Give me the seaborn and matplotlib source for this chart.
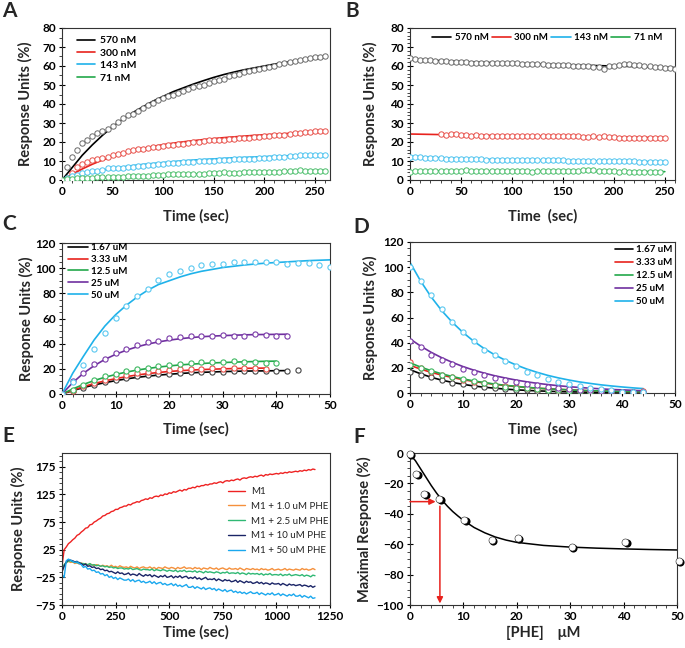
import numpy as np
import matplotlib
matplotlib.use("Agg")
import matplotlib.pyplot as plt
import matplotlib.transforms as mtransforms
from matplotlib.lines import Line2D
from matplotlib.ticker import MultipleLocator, FixedLocator
import seaborn as sns

sns.set_theme(style="ticks")
plt.rcParams["font.family"] = ["Lato", "DejaVu Sans"]
plt.rcParams["font.weight"] = "bold"
plt.rcParams["axes.labelweight"] = "bold"

# ------------------------------------------------------------------ data
# Panel A (association, 5 s sampling)
a_labels = ["570 nM", "300 nM", "143 nM", "71 nM"]
a_570_start = 0
a_570 = [0, 7, 12, 16, 19.5, 21, 23, 24.5, 25.6, 27, 28.6, 30.5, 32.6, 34, 35, 36.5, 38,
         39.5, 40.5, 42, 43, 44, 45, 46, 46.7, 48, 48.8, 49.5, 50, 51, 52, 52.5, 53.3, 54.5,
         55.5, 56, 57, 57.5, 58, 58.5, 59, 59.5, 60.2, 61, 61.5, 62, 62.6, 63, 63.7, 64.3,
         64.6, 64.8, 65.4]
a_300_start = 10
a_300 = [3.7, 7, 8.6, 9.5, 10.3, 11, 11.6, 12.3, 13, 13.6, 14.2, 15.2, 16, 16.2, 16.5, 16.8,
         17.2, 17.5, 17.7, 18.3, 18.6, 18.9, 19.1, 19.6, 20, 20.2, 20.4, 20.8, 21, 21, 21.2,
         21.6, 21.8, 22, 22.1, 22.3, 22.6, 22.8, 23, 23.4, 23.6, 23.8, 23.9, 24.3, 24.6, 24.9,
         25.1, 25.4, 25.6, 25.7, 25.8]
a_143_start = 5
a_143 = [1, 2.2, 2.8, 3.5, 4, 4.5, 5, 5.5, 6.3, 6.2, 6.4, 6.5, 6.8, 7, 7.2, 7.5, 7.8, 8, 8.3,
         8.5, 8.8, 9, 9.2, 9.3, 9.5, 9.6, 9.8, 9.8, 10, 10.2, 10.3, 10.5, 10.7, 10.8, 11, 11,
         11.2, 11.3, 11.5, 11.5, 11.8, 12, 12.1, 12.2, 12.5, 12.8, 13, 13, 13.2, 13.1, 13.3, 13.2]
a_71_start = 0
a_71 = [0, 0.3, 0.5, 0.8, 1, 1, 1.2, 1.4, 1.5, 1.4, 1.5, 1.7, 1.8, 1.9, 2, 2.1, 2, 2.3, 2.5,
        2.7, 2.8, 2.9, 3, 2.9, 3, 3.1, 3.2, 3.3, 3.3, 3.6, 3.8, 3.9, 4, 3.8, 3.7, 3.9, 4, 4.1,
        4, 4.1, 4.2, 4.3, 4.2, 4.4, 4.5, 4.6, 4.8, 5.1, 5, 4.8, 4.9, 5, 5]
a_fit_time = [0, 10, 20, 30, 40, 50, 60, 70, 80, 90, 100, 110, 120, 130, 140, 150, 160, 170,
              180, 190, 200, 210, 220, 230, 240, 250, 260]
a_fit_570 = [0, 6.5, 13, 18.5, 23.5, 28, 32, 35.5, 38.5, 41.5, 44, 46.5, 48.5, 50.5, 52.3, 54,
             55.5, 56.8, 58, 59, 60, 61, 61.8, 62.5, 63.2, 63.8, 64.3]
a_fit_300 = [0, 3, 5.8, 8.3, 10.5, 12.4, 14, 15.4, 16.6, 17.7, 18.6, 19.4, 20.1, 20.7, 21.3,
             21.8, 22.3, 22.7, 23.1, 23.5, 23.8, 24.1, 24.4, 24.7, 24.9, 25.1, 25.3]
a_fit_143 = [0, 1.6, 3, 4.2, 5.2, 6.1, 6.9, 7.6, 8.2, 8.7, 9.2, 9.7, 10.1, 10.5, 10.8, 11.1,
             11.4, 11.7, 11.9, 12.1, 12.3, 12.5, 12.7, 12.9, 13, 13.2, 13.3]
a_fit_71 = [0, 0.3, 0.6, 0.9, 1.2, 1.5, 1.7, 1.9, 2.1, 2.3, 2.5, 2.7, 2.9, 3.1, 3.3, 3.4, 3.6,
            3.7, 3.9, 4.0, 4.2, 4.3, 4.5, 4.6, 4.8, 4.9, 5.0]

# Panel B (dissociation, 5 s sampling)
b_570_start = 0
b_570 = [64, 63.5, 63.3, 63, 63, 62.8, 62.6, 62.4, 62.2, 62.3, 62, 62, 61.8, 61.7, 61.8, 61.6,
         61.5, 61.7, 61.6, 61.4, 61.6, 61.5, 61.2, 61.0, 60.9, 61, 60.8, 60.7, 60.6, 60.3, 60.4,
         60.3, 60.2, 60.1, 59.9, 59.8, 59.7, 59.6, 58.6, 59.8, 60.2, 60.5, 61, 60.8, 60.5, 60.3,
         60.1, 60, 59.5, 59.3, 59.1, 59, 58.6]
b_300_start = 30
b_300 = [24.1, 23.9, 24.3, 24.2, 23.8, 23.5, 23.4, 23.5, 23.2, 23.3, 23.1, 23, 22.9, 23.1, 23,
         23.2, 23.3, 23.1, 23.4, 23.2, 23.3, 23.1, 23, 23.2, 23.1, 23, 23.2, 23, 22.8, 22.7,
         22.9, 22.8, 22.9, 22.6, 22.4, 22.3, 22.1, 22, 21.9, 22, 22.1, 22, 22.2, 22.3, 22.2]
b_143_start = 0
b_143 = [12.3, 12, 11.9, 11.8, 11.6, 11.5, 11.4, 11.3, 11.2, 11.1, 11, 10.9, 10.9, 10.8, 10.8,
         10.7, 10.7, 10.6, 10.6, 10.6, 10.5, 10.5, 10.5, 10.4, 10.4, 10.4, 10.4, 10.3, 10.3, 10.3,
         10.3, 10.2, 10.2, 10.2, 10.1, 10.1, 10.1, 10, 10, 10, 10, 9.9, 9.9, 9.8, 9.8, 9.7, 9.6,
         9.5, 9.5, 9.5, 9.6]
b_71_start = 0
b_71 = [4.3, 4.8, 4.9, 4.6, 4.5, 4.7, 4.6, 4.8, 4.7, 4.9, 5, 5.2, 5, 4.8, 4.9, 4.7, 4.6, 4.8,
        4.5, 4.6, 4.7, 4.6, 4.5, 4.6, 4.4, 4.5, 4.6, 4.5, 4.7, 4.8, 4.6, 4.7, 4.8, 5, 5.2, 5.3,
        5.2, 5, 4.8, 4.6, 4.5, 4.4, 4.5, 4.4, 4.3, 4.4, 4.3, 4.2, 4.3, 4.2]
b_fit_time_570 = [0, 50, 100, 150, 200, 260]
b_fit_570 = [63.5, 62.3, 61.4, 60.6, 60.0, 59.2]
b_fit_time = [0, 50, 100, 150, 200, 250]
b_fit_300 = [24.2, 23.7, 23.3, 22.9, 22.6, 22.3]
b_fit_143 = [12.4, 11.2, 10.6, 10.2, 9.9, 9.6]
b_fit_71 = [4.8, 4.7, 4.6, 4.5, 4.5, 4.4]

# Panel C (association, 2 s sampling)
cd_labels = ["1.67 uM", "3.33 uM", "12.5 uM", "25 uM", "50 uM"]
c_1p67 = [0, 2, 5, 7.5, 9.5, 11.5, 12.5, 14, 15, 15.5, 16.2, 16.8, 17.3, 17.5, 17.8, 17.6, 18,
          18.2, 18.3, 18.2, 18.5, 18.2, 18.8]
c_3p33 = [0, 2.5, 6, 9, 11.5, 13.5, 15, 16.5, 17.5, 18.3, 19, 19.5, 19.8, 20, 20.3, 20.1, 20.5,
          20.3, 20.4, 20]
c_12p5 = [0, 3, 7.5, 11, 14, 16, 18, 19.5, 21, 22.3, 23.3, 24, 24.8, 25.2, 25.5, 25.3, 26,
          25.6, 25.8, 24.3, 25]
c_25 = [0, 10, 16.5, 23.6, 27.9, 32.4, 35.8, 39, 41.1, 42.5, 44.3, 45.4, 45.9, 46.2, 45.9,
        46.7, 46.4, 46.4, 47.3, 46.7, 46.4, 46.4]
c_50 = [0, 9.8, 22.8, 35.6, 48.3, 60.3, 70, 78, 83.6, 90.3, 95, 97.7, 99.8, 102.5, 103.3, 103.3,
        104.6, 105, 104.9, 104.6, 104.9, 103.3, 103.8, 104, 102.5, 100.9]
c_fit_1p67 = [0, 2.7, 5.1, 7.2, 9, 10.6, 12, 13.2, 14.2, 15, 15.7, 16.3, 16.8, 17.2, 17.5, 17.8,
              18, 18.2, 18.3, 18.4, 18.5, 18.6]
c_fit_3p33 = [0, 3, 5.8, 8.3, 10.4, 12.2, 13.8, 15.1, 16.2, 17.1, 17.9, 18.5, 19, 19.4, 19.7,
              20, 20.2, 20.4, 20.5, 20.6]
c_fit_12p5 = [0, 4, 7.6, 10.7, 13.3, 15.5, 17.4, 19, 20.3, 21.4, 22.3, 23.1, 23.7, 24.2, 24.7,
              25, 25.3, 25.6, 25.8, 26, 26.1]
c_fit_25 = [0, 9, 16.5, 22.5, 27.5, 31.5, 34.8, 37.5, 39.7, 41.4, 42.8, 43.9, 44.8, 45.5, 46,
            46.4, 46.7, 47, 47.2, 47.3, 47.4, 47.5]
c_fit_50 = [0, 16.5, 30, 43, 54, 63, 70.5, 77, 82.5, 87, 90, 93, 95.5, 97.5, 99, 100.5, 101.5,
            102.5, 103.3, 104, 104.5, 105, 105.5, 106, 106.3, 106.6]

# Panel D (dissociation, 2 s sampling)
d_1p67 = [16.5, 14, 12.5, 10.5, 8, 7, 5.5, 4.5, 4, 3, 2.5, 2, 1.5, 1.2, 1, 0.8, 0.6, 0.5, 0.4,
          0.3, 0.3, 0.2, 0.2]
d_3p33 = [24.5, 20, 17, 14.5, 12.5, 10.5, 9, 7.8, 6.5, 5.5, 4.7, 4, 3.4, 2.8, 2.4, 2, 1.7,
          1.4, 1.2, 1, 0.8, 0.7, 1.2]
d_12p5 = [22.5, 20, 17.5, 14.5, 12.5, 10.8, 9.2, 8, 6.3, 4.5, 4.3, 3.6, 3, 2.5, 2, 1.5, 1.2,
          1, 0.8, 0.6, 0.5, 0.4, 0.3]
d_25 = [41, 36.3, 30.5, 26.5, 22.8, 19.3, 16.5, 14.5, 12, 10.5, 9, 7.5, 6.3, 5, 4, 3.3, 2.7, 2,
        1.5, 1.2, 1, 0.8, 0.7]
d_50 = [100.1, 89.3, 78, 67, 56.7, 48.2, 41, 34.4, 30, 25.2, 21.2, 17, 14.3, 11.1, 8.7, 7.4,
        5.3, 4, 3.2, 2.1, 1, 1, 0.8]
d_fit_1p67 = [18.5, 15.3, 12.5, 10.2, 8.4, 6.9, 5.6, 4.6, 3.8, 3.1, 2.5, 2.1, 1.7, 1.4, 1.1,
              0.9, 0.8, 0.6, 0.5, 0.4, 0.3, 0.3, 0.2]
d_fit_3p33 = [22, 19.0, 16.4, 14.2, 12.3, 10.6, 9.2, 7.9, 6.9, 5.9, 5.1, 4.4, 3.8, 3.3, 2.9,
              2.5, 2.1, 1.8, 1.6, 1.4, 1.2, 1.0, 0.9]
d_fit_12p5 = [24, 20.6, 17.7, 15.2, 13.1, 11.2, 9.6, 8.3, 7.1, 6.1, 5.3, 4.5, 3.9, 3.3, 2.9,
              2.5, 2.1, 1.8, 1.6, 1.3, 1.2, 1.0, 0.9]
d_fit_25 = [43, 37.3, 32.3, 28.0, 24.3, 21.0, 18.2, 15.8, 13.7, 11.9, 10.3, 8.9, 7.7, 6.7, 5.8,
            5.0, 4.4, 3.8, 3.3, 2.8, 2.5, 2.1, 1.8]
d_fit_50 = [103.8, 89.0, 76.3, 65.4, 56.1, 48.1, 41.2, 35.3, 30.3, 26.0, 22.3, 19.1, 16.4, 14.0,
            12.0, 10.3, 8.8, 7.6, 6.5, 5.6, 4.8, 4.1, 3.5]

# Panel E (sensorgrams, 10 s sampling)
e_labels = ["M1", "M1 + 1.0 uM PHE", "M1 + 2.5 uM PHE", "M1 + 10 uM PHE", "M1 + 50 uM PHE"]
e_m1 = [-5, 25, 30, 36, 39, 43, 46, 51, 53, 57,
        60, 64, 65, 70, 71, 75, 77, 80, 82, 86,
        87, 90, 91, 94, 95, 98, 98, 101, 102, 104,
        104, 107, 106, 109, 110, 112, 111, 114, 115, 117,
        116, 119, 118, 121, 122, 121, 124, 123, 126, 125,
        128, 127, 130, 129, 131, 133, 131, 134, 133, 136,
        136, 138, 137, 140, 139, 141, 141, 143, 142, 144,
        144, 146, 145, 147, 148, 146, 149, 150, 149, 151,
        150, 152, 153, 151, 154, 155, 154, 156, 157, 156,
        158, 157, 159, 160, 158, 161, 160, 162, 161, 162,
        163, 162, 164, 163, 165, 164, 166, 165, 166, 167,
        166, 168, 167, 169, 168, 170, 169, 171, 170]
e_phe1 = [-15, -3, 2, 4, 2, 3, 0, 2, -1, 1,
          -1, 0, -3, -1, -2, -4, -2, -3, -5, -3,
          -5, -4, -6, -3, -6, -5, -7, -4, -6, -7,
          -6, -8, -5, -7, -8, -6, -9, -7, -6, -8,
          -8, -6, -9, -7, -10, -7, -8, -9, -6, -8,
          -9, -7, -8, -10, -7, -9, -8, -6, -9, -8,
          -8, -10, -7, -9, -8, -11, -8, -9, -10, -7,
          -9, -10, -8, -11, -9, -8, -10, -11, -8, -10,
          -10, -9, -11, -8, -10, -12, -9, -10, -11, -9,
          -11, -10, -12, -9, -11, -10, -12, -11, -9, -12,
          -11, -10, -12, -11, -9, -12, -10, -11, -12, -10,
          -11, -12, -9, -11, -10, -12, -11, -9, -11]
e_phe2 = [-10, -2, 2, 4, 5, 3, 3, 1, 2, 0,
          0, -1, -2, 0, -3, -2, -4, -3, -5, -4,
          -6, -5, -7, -6, -8, -7, -9, -8, -8, -10,
          -9, -10, -8, -11, -10, -9, -11, -12, -10, -11,
          -11, -12, -10, -13, -11, -12, -13, -11, -12, -14,
          -12, -13, -14, -12, -15, -13, -14, -12, -15, -14,
          -14, -15, -13, -16, -14, -15, -17, -14, -16, -15,
          -16, -17, -15, -16, -18, -16, -17, -15, -18, -17,
          -17, -18, -16, -19, -17, -18, -20, -17, -19, -18,
          -19, -18, -20, -18, -21, -19, -20, -18, -21, -20,
          -20, -21, -19, -22, -20, -21, -19, -22, -21, -20,
          -21, -22, -20, -23, -21, -22, -24, -21, -22]
e_phe10 = [-15, -5, 3, 7, 6, 5, 3, 4, 1, 0,
           -3, -1, -5, -4, -7, -6, -9, -8, -11, -10,
           -13, -12, -15, -14, -16, -18, -15, -18, -17, -20,
           -19, -17, -21, -19, -20, -22, -18, -21, -23, -20,
           -22, -20, -24, -21, -23, -25, -22, -24, -21, -25,
           -24, -22, -26, -23, -25, -22, -26, -24, -23, -27,
           -25, -27, -24, -28, -26, -29, -27, -25, -29, -28,
           -29, -27, -31, -28, -30, -32, -29, -31, -30, -33,
           -32, -30, -34, -31, -33, -35, -32, -34, -33, -36,
           -35, -33, -36, -34, -37, -35, -36, -38, -35, -37,
           -37, -36, -39, -36, -38, -40, -37, -39, -38, -40,
           -39, -38, -41, -39, -40, -42, -40, -43, -41]
e_phe50 = [-20, -25, 5, 8, 6, 4, 2, 3, 0, -2,
           -7, -5, -10, -9, -13, -12, -16, -15, -19, -18,
           -22, -20, -25, -23, -27, -25, -29, -26, -28, -30,
           -30, -28, -32, -29, -33, -31, -30, -34, -32, -35,
           -34, -32, -36, -33, -37, -35, -34, -38, -36, -39,
           -38, -36, -40, -37, -41, -39, -42, -40, -38, -43,
           -43, -41, -45, -42, -44, -46, -43, -47, -45, -44,
           -47, -45, -49, -46, -48, -50, -47, -51, -49, -48,
           -52, -50, -53, -51, -54, -52, -55, -53, -51, -54,
           -54, -52, -56, -53, -55, -57, -54, -56, -53, -57,
           -56, -54, -58, -55, -57, -59, -56, -58, -55, -59,
           -59, -57, -61, -58, -60, -62, -59, -63, -62]

# Panel F (dose response)
f_conc = [0, 1.2, 2.7, 5.5, 10.2, 15.3, 20.2, 30.3, 40.3, 50.3]
f_resp = [-0.5, -13.5, -27, -30.5, -43.8, -57.3, -56.2, -61.6, -58.5, -71.3]
f_fit_conc = [0, 1, 2, 3, 4, 5, 6, 7, 8, 9, 10, 12, 14, 16, 18, 20, 25, 30, 35, 40, 45, 50]
f_fit_resp = [-1, -5, -10.5, -16, -21.5, -26.5, -31, -35, -38.5, -41.5, -44.3, -49, -52.5,
              -55.3, -57.3, -58.8, -60.8, -61.9, -62.6, -63.1, -63.5, -63.8]
f_half_resp = -32
f_ic50 = 5.6

# ------------------------------------------------------------------ colours
C_BLACK, C_RED, C_BLUE, C_GREEN, C_PURPLE = "#000000", "#e8221d", "#1fb2ea", "#22a84a", "#7030a0"
P_BLACK, P_RED, P_BLUE, P_GREEN = "#6a6a6a", "#e8504a", "#4cc3ef", "#4cbf6c"
E_COLORS = ["#ee2222", "#f5903c", "#2fb874", "#1a2466", "#1aa8ee"]

fig = plt.figure(figsize=(6.85, 6.48), dpi=100)


def px_axes(l, t, r, b):
    return fig.add_axes([l / 685, 1 - b / 648, (r - l) / 685, (b - t) / 648])


def style(ax, xlim, ylim, xmaj, xmin, ymaj=None, ymin=None, yticks=None, yminor=None):
    ax.set_xlim(*xlim)
    ax.set_ylim(*ylim)
    ax.xaxis.set_major_locator(MultipleLocator(xmaj))
    ax.xaxis.set_minor_locator(MultipleLocator(xmin))
    if yticks is not None:
        ax.yaxis.set_major_locator(FixedLocator(yticks))
        ax.yaxis.set_minor_locator(FixedLocator(yminor))
    else:
        ax.yaxis.set_major_locator(MultipleLocator(ymaj))
        ax.yaxis.set_minor_locator(MultipleLocator(ymin))
    ax.tick_params(which="major", direction="inout", length=5, width=0.8,
                   labelsize=8.5, pad=2, colors="black", top=False, right=False)
    ax.tick_params(which="minor", direction="out", length=2.2, width=0.6,
                   top=False, right=False)
    for s in ax.spines.values():
        s.set_visible(True)
        s.set_linewidth(0.8)
        s.set_color("#333333")
    ax.grid(False)


def set_labels(ax, xl, yl, xy, yx, size=10.5):
    ax.set_xlabel(xl, fontsize=size)
    ax.set_ylabel(yl, fontsize=size)
    ax.xaxis.label.set_va("baseline")
    ax.xaxis.set_label_coords(0.5, xy)
    ax.yaxis.set_label_coords(yx, 0.5)


def line(ax, x, y, color, lw=1.2, z=2):
    sns.lineplot(x=np.asarray(x, float), y=np.asarray(y, float), ax=ax, color=color,
                 linewidth=lw, zorder=z, estimator=None, sort=False, legend=False)


def pts(ax, x, y, color, s, lw=0.6, z=3):
    sns.scatterplot(x=np.asarray(x, float), y=np.asarray(y, float), ax=ax, s=s, marker="o",
                    facecolor="white", edgecolor=color, linewidth=lw, zorder=z, legend=False)


def times(start, step, vals):
    return start + step * np.arange(len(vals))


def legend(ax, labels, colors, x, y, fs, lw=1.2, ncol=1, hl=2.0, htp=0.3, ls=0.25, cs=0.3,
           weight="bold", tcolor="black"):
    handles = [Line2D([], [], color=c, lw=lw) for c in colors]
    leg = ax.legend(handles, labels, loc="upper left",
                    bbox_to_anchor=(x / 685, 1 - y / 648), bbox_transform=fig.transFigure,
                    frameon=False, borderpad=0, borderaxespad=0, ncol=ncol,
                    handlelength=hl, handletextpad=htp, labelspacing=ls, columnspacing=cs,
                    prop={"size": fs, "weight": weight, "family": ["Lato", "DejaVu Sans"]})
    for t in leg.get_texts():
        t.set_color(tcolor)
    return leg


# ------------------------------------------------------------------ Panel A
axA = px_axes(62, 28, 330, 180)
a_series = [(a_570_start, a_570, a_fit_570, C_BLACK, P_BLACK),
            (a_300_start, a_300, a_fit_300, C_RED, P_RED),
            (a_143_start, a_143, a_fit_143, C_BLUE, P_BLUE),
            (a_71_start, a_71, a_fit_71, C_GREEN, P_GREEN)]
for st, vals, fit, lc, pc in a_series:
    line(axA, a_fit_time, fit, lc, lw=1.2, z=2)
    pts(axA, times(st, 5, vals), vals, pc, s=15, lw=0.7, z=3)
style(axA, (0, 265), (0, 80), 50, 10, 10, 5)
set_labels(axA, "Time (sec)", "Response Units (%)", -0.265, -0.108)
legend(axA, a_labels, [C_BLACK, C_RED, C_BLUE, C_GREEN], 77, 36, 7.5, hl=1.75, htp=0.5, ls=0.3)

# ------------------------------------------------------------------ Panel B
axB = px_axes(410, 28, 675, 180)
line(axB, b_fit_time_570, b_fit_570, C_BLACK, z=2)
line(axB, b_fit_time, b_fit_300, C_RED, z=2)
line(axB, b_fit_time, b_fit_143, C_BLUE, z=2)
line(axB, b_fit_time, b_fit_71, C_GREEN, z=2)
for st, vals, pc in [(b_570_start, b_570, P_BLACK), (b_300_start, b_300, P_RED),
                     (b_143_start, b_143, P_BLUE), (b_71_start, b_71, P_GREEN)]:
    pts(axB, times(st, 5, vals), vals, pc, s=15, lw=0.7, z=3)
style(axB, (0, 260), (0, 80), 50, 10, 10, 2)
set_labels(axB, "Time  (sec)", "Response Units (%)", -0.265, -0.121)
legend(axB, a_labels, [C_BLACK, C_RED, C_BLUE, C_GREEN], 432, 33, 7, ncol=4, hl=2.0,
       htp=0.35, cs=0.3)

# ------------------------------------------------------------------ Panel C
axC = px_axes(62, 243, 330, 394)
cd_colors = [C_BLACK, C_RED, C_GREEN, C_PURPLE, C_BLUE]
cd_pcolors = ["#444444", "#e8504a", "#3cb860", "#7a3aa8", "#5ac8f0"]
c_pts = [c_1p67, c_3p33, c_12p5, c_25, c_50]
c_fits = [c_fit_1p67, c_fit_3p33, c_fit_12p5, c_fit_25, c_fit_50]
for vals, fit, lc, pc in zip(c_pts, c_fits, cd_colors, cd_pcolors):
    line(axC, times(0, 2, fit), fit, lc, lw=1.2, z=2)
    pts(axC, times(0, 2, vals), vals, pc, s=14, lw=0.8, z=3)
style(axC, (0, 50), (0, 120), 10, 2, 20, 5)
set_labels(axC, "Time (sec)", "Response Units (%)", -0.265, -0.106)
legend(axC, cd_labels, cd_colors, 68, 243, 7, hl=2.1, htp=0.25, ls=0.3)

# ------------------------------------------------------------------ Panel D
axD = px_axes(410, 242, 675, 393)
d_pts = [d_1p67, d_3p33, d_12p5, d_25, d_50]
d_fits = [d_fit_1p67, d_fit_3p33, d_fit_12p5, d_fit_25, d_fit_50]
for vals, fit, lc, pc in zip(d_pts, d_fits, cd_colors, cd_pcolors):
    line(axD, times(0, 2, fit), fit, lc, lw=1.2, z=2)
    pts(axD, times(0, 2, vals), vals, pc, s=14, lw=0.8, z=3)
style(axD, (0, 50), (0, 120), 10, 2, 20, 5)
set_labels(axD, "Time  (sec)", "Response Units (%)", -0.27, -0.12)
legend(axD, cd_labels, cd_colors, 615, 245, 7, hl=1.9, htp=0.25, ls=0.42)

# ------------------------------------------------------------------ Panel E
axE = px_axes(62, 453, 330, 605)
for vals, c in zip([e_m1, e_phe1, e_phe2, e_phe10, e_phe50], E_COLORS):
    line(axE, times(0, 10, vals), vals, c, lw=1.0, z=2)
style(axE, (0, 1250), (-75, 200), 250, 50,
      yticks=[-75, -25, 25, 75, 125, 175], yminor=list(range(-75, 201, 10)))
set_labels(axE, "Time (sec)", "Response Units (%)", -0.21, -0.136)
legend(axE, e_labels, E_COLORS, 228, 487, 7, lw=1.0, hl=1.75, htp=0.6, ls=0.6,
       weight="normal", tcolor="#222222")

# ------------------------------------------------------------------ Panel F
axF = px_axes(410, 453, 677, 605)
line(axF, f_fit_conc, f_fit_resp, "black", lw=1.1, z=2)
shadow = mtransforms.offset_copy(axF.transData, fig=fig, x=1.3, y=-1.0, units="dots")
sns.scatterplot(x=f_conc, y=f_resp, ax=axF, s=34, marker="o", color="black",
                edgecolor="black", linewidth=0, transform=shadow, zorder=4, legend=False,
                clip_on=False)
sns.scatterplot(x=f_conc, y=f_resp, ax=axF, s=26, marker="o", facecolor="white",
                edgecolor="#222222", linewidth=0.4, zorder=5, legend=False, clip_on=False)
axF.annotate("", xy=(f_ic50 - 0.8, f_half_resp), xytext=(0, f_half_resp),
             arrowprops=dict(arrowstyle="-|>", color="#e8221d", lw=1.1, mutation_scale=9,
                             shrinkA=0, shrinkB=0), zorder=6)
axF.annotate("", xy=(f_ic50, -99), xytext=(f_ic50, f_half_resp - 3),
             arrowprops=dict(arrowstyle="-|>", color="#e8221d", lw=1.1, mutation_scale=9,
                             shrinkA=0, shrinkB=0), zorder=6)
style(axF, (0, 50), (-100, 0), 10, 2, 20, 5)
set_labels(axF, "[PHE]    \u03bcM", "Maximal Response (%)", -0.21, -0.142)

# ------------------------------------------------------------------ panel letters
for letter, x, y in [("A", 2, 17), ("B", 345, 17), ("C", 2, 230), ("D", 353, 233),
                     ("E", 2, 442), ("F", 353, 443)]:
    fig.text(x / 685, 1 - y / 648, letter, fontsize=15, fontweight="bold",
             va="baseline", ha="left")

fig.savefig("out.png", dpi=100)
